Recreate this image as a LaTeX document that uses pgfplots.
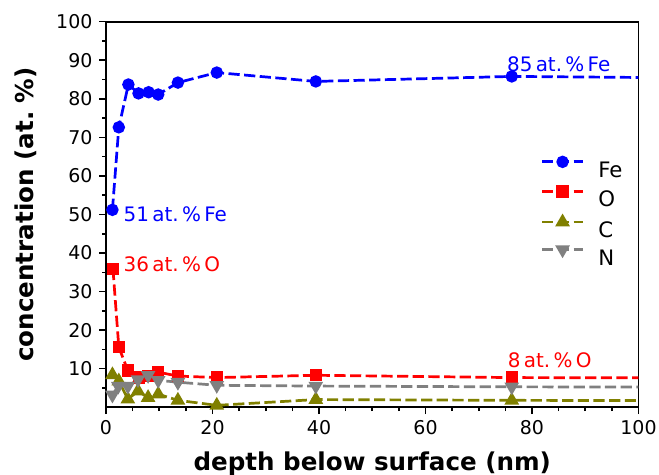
\documentclass[border=0pt]{standalone}
\usepackage{fontspec}
\setmainfont{DejaVu Sans}
\usepackage{pgfplots}
\pgfplotsset{compat=1.18}

\definecolor{olivec}{RGB}{128,128,0}
\definecolor{greyc}{RGB}{128,128,128}

\begin{document}
\begin{tikzpicture}
\begin{axis}[
    width=275.2pt, height=199.3pt, scale only axis,
    xmin=0, xmax=100, ymin=0, ymax=100,
    xtick={0,20,...,100}, ytick={10,20,...,100},
    minor xtick={5,10,15,25,30,35,45,50,55,65,70,75,85,90,95},
    minor ytick={5,15,...,95},
    tick pos=left, tick align=outside,
    major tick length=3.5pt, minor tick length=2pt,
    tick style={black, line width=0.8pt},
    axis line style={line width=1pt},
    ticklabel style={font=\fontsize{9.8}{11}\selectfont},
    /pgf/number format/assume math mode=true,
    xlabel={depth below surface (nm)},
    ylabel={concentration (at.\ \%)},
    xlabel style={at={(rel axis cs:0.5,0)}, anchor=center, yshift=-29pt,
                  font=\fontsize{12.7}{15}\selectfont\bfseries},
    ylabel style={at={(rel axis cs:0,0.5)}, anchor=center, yshift=41.6pt,
                  font=\fontsize{12.7}{15}\selectfont\bfseries},
    legend style={draw=none, fill=none, inner sep=0pt, at={(0.816,0.65)}, anchor=north west,
                  font=\fontsize{11}{13}\selectfont, row sep=4.8pt,
                  nodes={inner sep=0pt, text height=8pt, text depth=0pt},
                  /tikz/every odd column/.append style={column sep=7.3pt}},
    legend cell align=left,
    legend image code/.code={%
        \draw[mark repeat=2, mark phase=2, yshift=4pt]
        plot coordinates {(0pt,0pt) (10.5pt,0pt) (21pt,0pt)};},
    every axis plot/.append style={line width=1.4pt, dash pattern=on 5.8pt off 2.3pt},
]
\addplot[blue, mark=*, mark size=2.5pt, mark options={solid}] coordinates {
(1.2,51.2) (2.4,72.6) (4.2,83.7) (6.1,81.4) (8.0,81.7) (9.8,81.1)
(13.5,84.2) (20.8,86.8) (39.4,84.5) (76.2,85.8) (120,85.3)};
\addplot[red, mark=square*, mark size=2.5pt, mark options={solid}] coordinates {
(1.3,35.9) (2.4,15.6) (4.1,9.5) (6.2,7.7) (7.9,8.1) (9.8,9.1)
(13.5,8.1) (20.8,7.7) (39.4,8.3) (76.2,7.7) (120,7.6)};
\addplot[olivec, mark=triangle*, mark size=3pt, mark options={solid}] coordinates {
(1.2,8.4) (2.4,6.8) (4.1,2.1) (6.0,4.2) (7.9,2.5) (9.8,3.4)
(13.5,1.8) (20.8,0.5) (39.4,2.0) (76.2,1.8) (120,1.7)};
\addplot[greyc, mark=triangle*, mark size=3pt, mark options={solid, rotate=180}] coordinates {
(1.2,3.2) (2.3,5.5) (4.1,5.5) (6.0,7.2) (7.9,8.3) (9.8,7.0)
(13.5,6.5) (20.8,5.7) (39.4,5.5) (76.2,5.3) (120,5.2)};
\legend{Fe, O, C, N}
\node[blue, anchor=base west, inner sep=0pt, font=\fontsize{10.3}{12}\selectfont] at (axis cs:3.25,48.1) {51\,at.\,\%\,Fe};
\node[red, anchor=base west, inner sep=0pt, font=\fontsize{10.3}{12}\selectfont] at (axis cs:3.25,35.2) {36\,at.\,\%\,O};
\node[blue, anchor=base west, inner sep=0pt, font=\fontsize{10.3}{12}\selectfont] at (axis cs:75.25,87.0) {85\,at.\,\%\,Fe};
\node[red, anchor=base west, inner sep=0pt, font=\fontsize{10.3}{12}\selectfont] at (axis cs:75.4,10.3) {8\,at.\,\%\,O};
\end{axis}
\pgfresetboundingbox
\path ([shift={(-54.8pt,-35pt)}]current axis.south west) rectangle ([shift={(10.6pt,11.2pt)}]current axis.north east);
\end{tikzpicture}
\end{document}
